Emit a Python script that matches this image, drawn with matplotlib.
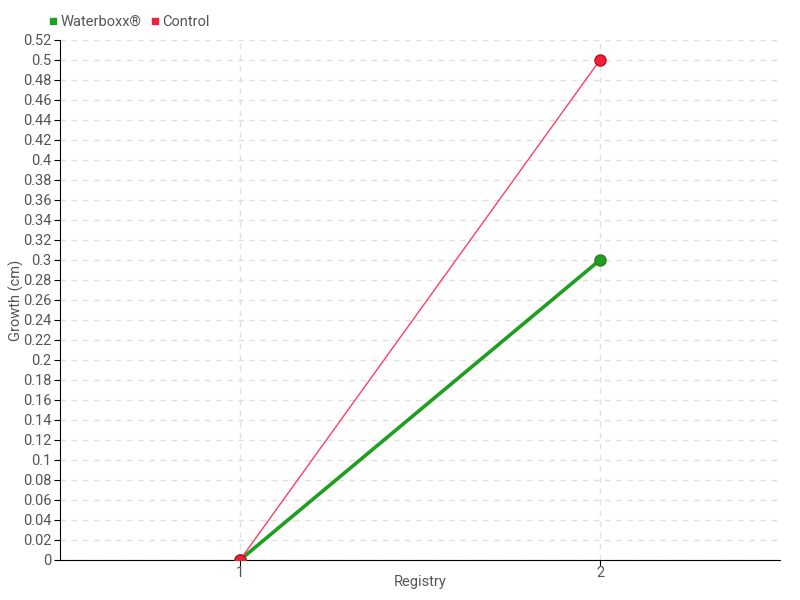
import matplotlib
matplotlib.use("Agg")
import matplotlib.pyplot as plt
from matplotlib.lines import Line2D
import numpy as np

# --- dati ---
registry = [1, 2]
waterboxx = [0, 0.3]
control = [0, 0.5]
series_names = ['Waterboxx®', 'Control']
y_ticks = np.round(np.arange(0, 0.521, 0.02), 2)

plt.rcParams['font.family'] = ['Roboto', 'DejaVu Sans']

fig = plt.figure(figsize=(8, 6), dpi=100)
ax = fig.add_axes([0.075, 0.0667, 0.9, 0.8667])

green = '#1f9e1f'
red = '#f0203a'
grey_txt = '#555555'

ax.plot(registry, waterboxx, color=green, lw=2.6, marker='o', ms=8,
        mfc=green, mec='#2e7d2e', mew=1, zorder=3)
ax.plot(registry, control, color='#ff4060', lw=1, zorder=4)
ax.plot(registry, control, color=red, lw=0, marker='o', ms=8,
        mfc=red, mec='#c01020', mew=1, zorder=5)

ax.set_xlim(0.5, 2.5)
ax.set_ylim(0, 0.52)
ax.set_xticks(registry)
ax.set_xticklabels([str(r) for r in registry])
ax.set_yticks(y_ticks)
ax.set_yticklabels([f'{t:g}' for t in y_ticks])

ax.grid(True, color='#e0e0e0', ls=(0, (4, 4)), lw=1)
ax.set_axisbelow(True)
for s in ['top', 'right']:
    ax.spines[s].set_visible(False)
ax.tick_params(axis='both', labelsize=10.5, labelcolor=grey_txt, length=4,
               color='black', pad=2)
ax.tick_params(axis='x', pad=0)

# etichette assi posizionate come nel riferimento
ax.set_xlabel('Registry', fontsize=10.5, color=grey_txt)
ax.xaxis.set_label_coords(0.5, -0.028)
ax.set_ylabel('Growth (cm)', fontsize=10.5, color=grey_txt)
ax.yaxis.set_label_coords(-0.05, 0.5)

# legenda in alto a sinistra
handles = [Line2D([], [], color=c, marker='s', ms=5, lw=0) for c in (green, red)]
fig.legend(handles, series_names, loc='center left', bbox_to_anchor=(0.052, 0.963),
           ncol=2, frameon=False, fontsize=10.5, labelcolor=grey_txt,
           handlelength=0.6, handletextpad=0.2, columnspacing=0.6, borderpad=0)

fig.savefig('out.png', dpi=100)
